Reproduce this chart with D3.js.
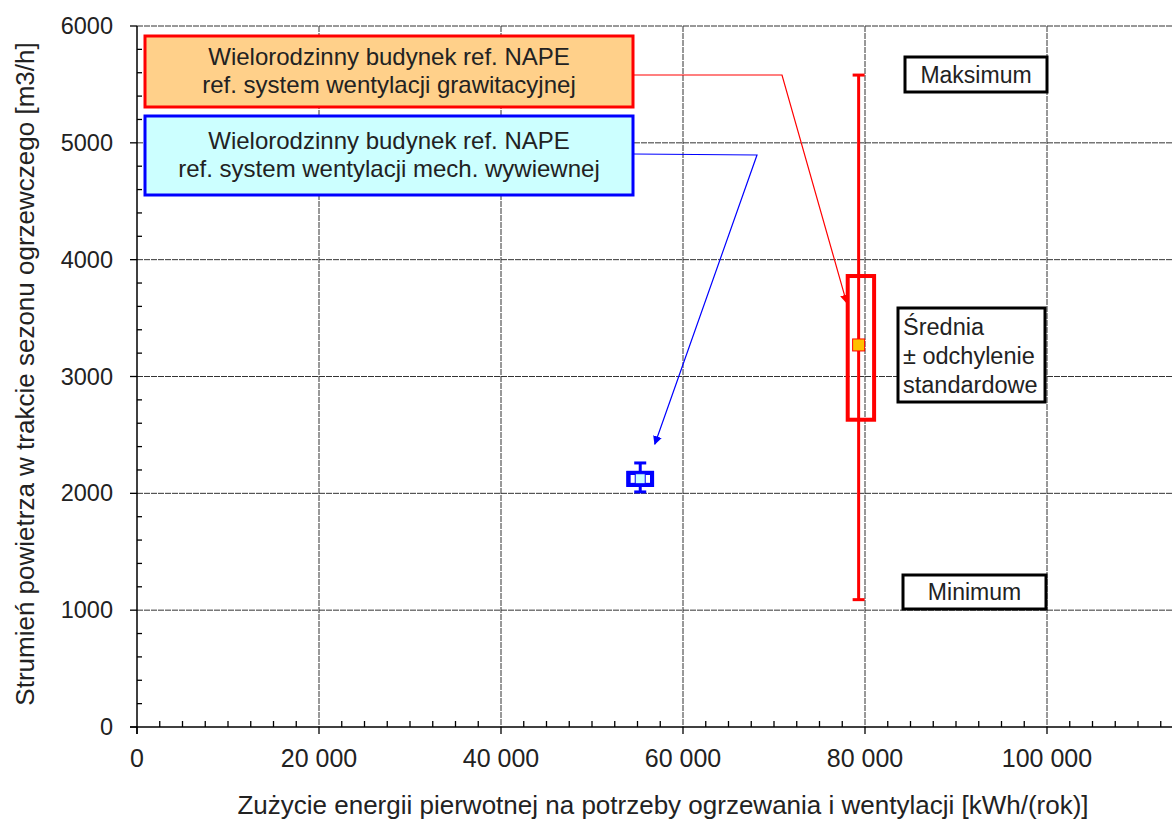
<!DOCTYPE html>
<html><head><meta charset="utf-8">
<script src="https://cdn.jsdelivr.net/npm/d3@7"></script>
<style>body{margin:0;background:#fff}svg{display:block}text{font-family:"Liberation Sans",Arial,sans-serif}</style>
</head><body>
<script>
// ---- data ----
const xTicks = [0, 20000, 40000, 60000, 80000, 100000];
const xTickLabels = ["0", "20 000", "40 000", "60 000", "80 000", "100 000"];
const yTicks = [0, 1000, 2000, 3000, 4000, 5000, 6000];
const seriesNames = ["Wielorodzinny budynek ref. NAPE|ref. system wentylacji grawitacyjnej",
                     "Wielorodzinny budynek ref. NAPE|ref. system wentylacji mech. wywiewnej"];
const meanX = [79300, 55300];
const meanY = [3270, 2125];
const boxXLo = [78100, 54000];
const boxXHi = [81000, 56600];
const boxYLo = [2630, 2072];
const boxYHi = [3860, 2175];
const minY = [1090, 2012];
const maxY = [5580, 2260];
const notes = ["Maksimum", "Minimum", "Średnia|± odchylenie|standardowe"];

const W = 1172, H = 819;
const svg = d3.select("body").append("svg").attr("width", W).attr("height", H);
const x = d3.scaleLinear().domain([0, 100000]).range([137, 1047]);
const y = d3.scaleLinear().domain([0, 6000]).range([727, 26]);
const xMax = x.invert(W);

// grid
const g = svg.append("g");
g.selectAll(".vg").data(xTicks.filter(d => d > 0)).enter().append("line")
  .attr("x1", d => x(d)).attr("x2", d => x(d)).attr("y1", y(6000)).attr("y2", y(0))
  .attr("stroke", "#333").attr("stroke-width", 1).attr("stroke-dasharray", "6,1");
g.selectAll(".hg").data(yTicks.filter(d => d > 0)).enter().append("line")
  .attr("x1", x(0)).attr("x2", W).attr("y1", d => y(d)).attr("y2", d => y(d))
  .attr("stroke", "#333").attr("stroke-width", 1).attr("stroke-dasharray", "6,1");

// axes
const xMinor = d3.range(2500, xMax, 2500).filter(v => v % 20000 !== 0);
const yMinor = d3.range(200, 6000, 200).filter(v => v % 1000 !== 0);
const ax = svg.append("g");
ax.append("line").attr("x1", x(0) - 7).attr("x2", W).attr("y1", y(0)).attr("y2", y(0)).attr("stroke", "#000").attr("stroke-width", 1.5);
ax.append("line").attr("x1", x(0)).attr("x2", x(0)).attr("y1", y(6000)).attr("y2", y(0) + 7).attr("stroke", "#000").attr("stroke-width", 1.5);
ax.selectAll(".xmn").data(xMinor).enter().append("line")
  .attr("x1", d => x(d)).attr("x2", d => x(d)).attr("y1", y(0)).attr("y2", y(0) - 6).attr("stroke", "#000").attr("stroke-width", 1.3);
ax.selectAll(".xmj").data(xTicks).enter().append("line")
  .attr("x1", d => x(d)).attr("x2", d => x(d)).attr("y1", y(0)).attr("y2", y(0) + 7).attr("stroke", "#000").attr("stroke-width", 1.3);
ax.selectAll(".ymn").data(yMinor).enter().append("line")
  .attr("x1", x(0)).attr("x2", x(0) + 5).attr("y1", d => y(d)).attr("y2", d => y(d)).attr("stroke", "#000").attr("stroke-width", 1.3);
ax.selectAll(".ymj").data(yTicks).enter().append("line")
  .attr("x1", x(0) - 7).attr("x2", x(0)).attr("y1", d => y(d)).attr("y2", d => y(d)).attr("stroke", "#000").attr("stroke-width", 1.3);
ax.selectAll(".xl").data(xTicks).enter().append("text")
  .attr("x", d => x(d)).attr("y", y(0) + 40).attr("text-anchor", "middle")
  .attr("font-size", 25).attr("fill", "#222").text((d, i) => xTickLabels[i]);
ax.selectAll(".yl").data(yTicks).enter().append("text")
  .attr("x", 113).attr("y", d => y(d) + 8).attr("text-anchor", "end")
  .attr("font-size", 23.5).attr("fill", "#222").text(d => d);
svg.append("text").attr("x", 663).attr("y", 814).attr("text-anchor", "middle").attr("font-size", 26).attr("fill", "#222")
  .text("Zużycie energii pierwotnej na potrzeby ogrzewania i wentylacji [kWh/(rok)]");
svg.append("text").attr("transform", "translate(34,374) rotate(-90)").attr("text-anchor", "middle").attr("font-size", 26).attr("fill", "#222")
  .text("Strumień powietrza w trakcie sezonu ogrzewczego [m3/h]");

// series
const strokes = ["#FF0000", "#0000FF"];
const markFill = ["#FFC000", "#CCFFFF"];
const markSize = [12, 10];
const capW = [6, 6];
const boxSW = [4, 4];
const ser = svg.append("g");
[0, 1].forEach(i => {
  const s = ser.append("g");
  s.append("rect").attr("x", x(boxXLo[i])).attr("y", y(boxYHi[i]))
    .attr("width", x(boxXHi[i]) - x(boxXLo[i])).attr("height", y(boxYLo[i]) - y(boxYHi[i]))
    .attr("fill", i === 1 ? "#fff" : "none").attr("stroke", strokes[i]).attr("stroke-width", boxSW[i]);
  s.append("line").attr("x1", x(meanX[i])).attr("x2", x(meanX[i])).attr("y1", y(maxY[i])).attr("y2", y(minY[i]))
    .attr("stroke", strokes[i]).attr("stroke-width", 3);
  [maxY[i], minY[i]].forEach(v => s.append("line").attr("x1", x(meanX[i]) - capW[i]).attr("x2", x(meanX[i]) + capW[i])
    .attr("y1", y(v)).attr("y2", y(v)).attr("stroke", strokes[i]).attr("stroke-width", 3));
  if (i === 1) {
    s.append("rect").attr("x", x(boxXLo[i])).attr("y", y(boxYHi[i]))
      .attr("width", x(boxXHi[i]) - x(boxXLo[i])).attr("height", y(boxYLo[i]) - y(boxYHi[i]))
      .attr("fill", "none").attr("stroke", strokes[i]).attr("stroke-width", boxSW[i]);
  }
  const m = markSize[i];
  s.append("rect").attr("x", x(meanX[i]) - m / 2).attr("y", y(meanY[i]) - m / 2).attr("width", m).attr("height", m)
    .attr("fill", markFill[i]).attr("stroke", strokes[i]).attr("stroke-width", 1);
});

// legend boxes
const legFill = ["#FFD08A", "#CCFFFF"];
const legY = [36, 116], legH = [71, 79];
const legBase = [[65, 93], [149, 177]];
const defs = svg.append("defs");
[0, 1].forEach(i => {
  defs.append("marker").attr("id", "ah" + i).attr("viewBox", "0 0 10 10").attr("refX", 9).attr("refY", 5)
    .attr("markerWidth", 9).attr("markerHeight", 9).attr("orient", "auto-start-reverse").attr("markerUnits", "userSpaceOnUse")
    .append("path").attr("d", "M0,0 L10,5 L0,10 z").attr("fill", strokes[i]);
});
[0, 1].forEach(i => {
  const lg = svg.append("g");
  lg.append("rect").attr("x", 145).attr("y", legY[i]).attr("width", 488).attr("height", legH[i])
    .attr("fill", legFill[i]).attr("stroke", strokes[i]).attr("stroke-width", 3);
  const lines = seriesNames[i].split("|");
  lines.forEach((t, k) => lg.append("text").attr("x", 389).attr("y", legBase[i][k])
    .attr("text-anchor", "middle").attr("font-size", 24).attr("fill", "#222").text(t));
});
// leader arrows
const arrowPts = [
  [[633, 75], [782, 75], [x(boxXLo[0]) - 1, y(3630)]],
  [[633, 154], [757, 155], [x(56900), y(2420)]]
];
arrowPts.forEach((p, i) => svg.append("path").attr("d", d3.line()(p)).attr("fill", "none")
  .attr("stroke", strokes[i]).attr("stroke-width", 1.2).attr("marker-end", `url(#ah${i})`));

// notes
const noteBox = [[905, 57, 142, 35], [903, 575, 143, 34], [898, 308, 147, 94]];
notes.forEach((n, i) => {
  const b = noteBox[i];
  svg.append("rect").attr("x", b[0]).attr("y", b[1]).attr("width", b[2]).attr("height", b[3])
    .attr("fill", "#fff").attr("stroke", "#000").attr("stroke-width", 3);
  const lines = n.split("|");
  if (lines.length === 1) {
    svg.append("text").attr("x", b[0] + b[2] / 2).attr("y", b[1] + b[3] / 2 + 8).attr("text-anchor", "middle")
      .attr("font-size", 23).attr("fill", "#222").text(n);
  } else {
    lines.forEach((t, k) => svg.append("text").attr("x", b[0] + 5).attr("y", b[1] + 27 + k * 29)
      .attr("font-size", 23.5).attr("fill", "#222").text(t));
  }
});
</script>
</body></html>
